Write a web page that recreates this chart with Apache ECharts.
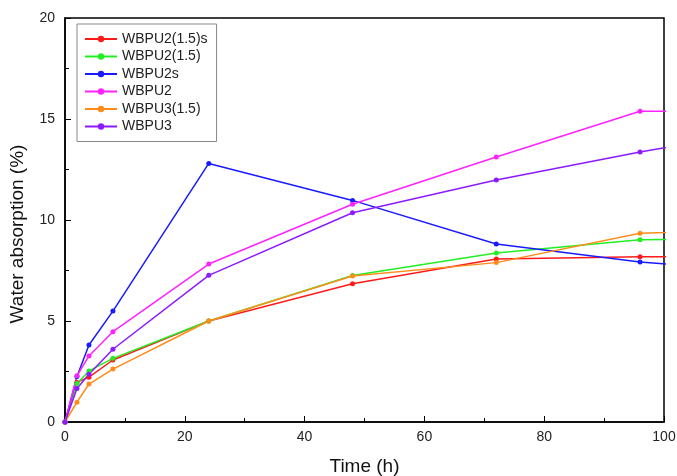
<!DOCTYPE html>
<html>
<head>
<meta charset="utf-8">
<script src="https://cdn.jsdelivr.net/npm/echarts@6/dist/echarts.min.js"></script>
<style>
  html, body { margin: 0; padding: 0; background: #fff; }
  #chart { width: 677px; height: 476px; }
</style>
</head>
<body>
<div id="chart"></div>
<script>
  // time points (h); the last one lies past the axis end and is clipped
  var times = [0, 2, 4, 8, 24, 48, 72, 96, 120]

  var names = ['WBPU2(1.5)s', 'WBPU2(1.5)', 'WBPU2s', 'WBPU2', 'WBPU3(1.5)', 'WBPU3']
  var colors = ['#ff1a1a', '#22ee22', '#1a1aff', '#ff22ff', '#ff8c1a', '#8c1aff']

  var wbpu2_15s = [0, 1.96, 2.22, 3.07, 5.0, 6.84, 8.07, 8.18, 8.2]
  var wbpu2_15 = [0, 1.9, 2.53, 3.15, 5.0, 7.25, 8.37, 9.02, 9.1]
  var wbpu2s = [0, 2.25, 3.81, 5.49, 12.8, 10.97, 8.81, 7.92, 7.4]
  var wbpu2 = [0, 2.29, 3.27, 4.47, 7.82, 10.78, 13.12, 15.38, 15.4]
  var wbpu3_15 = [0, 0.98, 1.88, 2.62, 5.0, 7.23, 7.89, 9.34, 9.6]
  var wbpu3 = [0, 1.66, 2.36, 3.6, 7.26, 10.36, 11.98, 13.37, 14.6]

  var allValues = [wbpu2_15s, wbpu2_15, wbpu2s, wbpu2, wbpu3_15, wbpu3]

  var font = 'Liberation Sans, Arial, sans-serif'

  var series = allValues.map(function (vals, i) {
    return {
      name: names[i],
      type: 'line',
      clip: true,
      symbol: 'circle',
      symbolSize: 5,
      showSymbol: true,
      lineStyle: { width: 1.5, color: colors[i] },
      itemStyle: { color: colors[i] },
      data: times.map(function (t, j) { return [t, vals[j]] })
    }
  })

  var myecharts = echarts.init(document.getElementById('chart'))
  myecharts.setOption({
    animation: false,
    backgroundColor: '#fff',
    grid: {
      left: 65, right: 13, top: 18, bottom: 54,
      outerBoundsMode: 'none',
      show: true, borderColor: '#000', borderWidth: 1.5
    },
    legend: {
      orient: 'vertical',
      left: 77, top: 24,
      padding: [8, 9, 8, 7],
      itemGap: 3.5,
      itemWidth: 32,
      itemHeight: 8,
      borderColor: '#888',
      borderWidth: 1,
      data: names,
      textStyle: { fontFamily: font, fontSize: 14, color: '#222' }
    },
    xAxis: {
      type: 'value',
      min: 0, max: 100, interval: 20,
      name: 'Time (h)',
      nameLocation: 'middle',
      nameGap: 35,
      nameTextStyle: { fontFamily: font, fontSize: 19, color: '#111' },
      axisLine: { lineStyle: { color: '#000', width: 1.5 } },
      axisTick: { inside: true, length: 6, lineStyle: { color: '#000' } },
      minorTick: { show: true, splitNumber: 2, length: 4, lineStyle: { color: '#000' } },
      axisLabel: { fontFamily: font, fontSize: 14, color: '#222', margin: 8 },
      splitLine: { show: false }
    },
    yAxis: {
      type: 'value',
      min: 0, max: 20, interval: 5,
      name: 'Water absorption (%)',
      nameLocation: 'middle',
      nameGap: 38,
      nameTextStyle: { fontFamily: font, fontSize: 19, color: '#111', padding: [0, 28, 0, 0] },
      axisLine: { show: true, lineStyle: { color: '#000', width: 1.5 } },
      axisTick: { show: true, inside: true, length: 6, lineStyle: { color: '#000' } },
      minorTick: { show: true, splitNumber: 2, length: 4, lineStyle: { color: '#000' } },
      axisLabel: { fontFamily: font, fontSize: 14, color: '#222', margin: 10 },
      splitLine: { show: false }
    },
    series: series
  })
</script>
</body>
</html>
